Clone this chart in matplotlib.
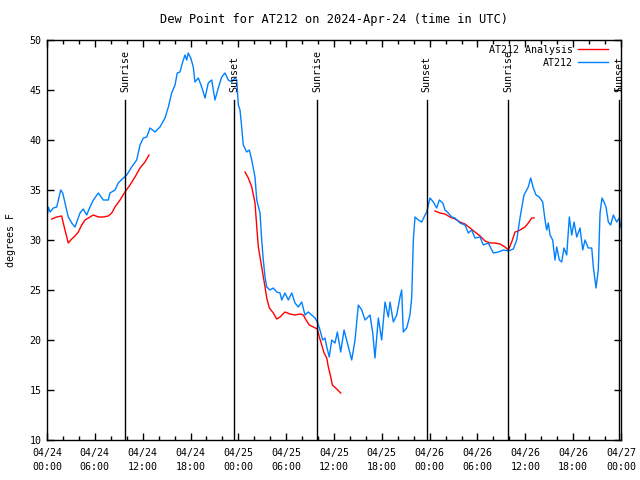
import numpy as np
import matplotlib
matplotlib.use("Agg")
import matplotlib.pyplot as plt
from matplotlib.ticker import MultipleLocator

# Hours since 2024-04-24 00:00 UTC
blue_hours = [0.0, 0.16, 0.38, 0.79, 1.22, 1.42, 1.72, 1.97, 2.26, 2.67, 3.10, 3.51, 3.73, 4.14, 4.55,
              4.98, 5.39, 5.81, 6.44, 7.06, 7.69, 7.90, 8.53, 8.94, 9.57, 10.0, 10.62, 11.25, 11.67,
              12.08, 12.51, 12.92, 13.55, 14.17, 14.80, 15.22, 15.64, 16.06, 16.34, 16.68, 17.02,
              17.31, 17.52, 17.72, 18.03, 18.35, 18.56, 18.98, 19.41, 19.82, 20.23, 20.66, 21.07,
              21.49, 21.91, 22.33, 22.74, 23.17, 23.58, 23.80, 24.00, 24.21, 24.42, 24.62, 25.05,
              25.38, 25.68, 26.09, 26.31, 26.72, 26.93, 27.13, 27.35, 27.56, 27.97, 28.39, 28.81,
              29.23, 29.44, 29.85, 30.27, 30.70, 31.11, 31.52, 31.95, 32.36, 32.78, 33.20, 33.62,
              33.91, 34.24, 34.58, 34.87, 35.09, 35.41, 35.71, 36.13, 36.42, 36.84, 37.26, 37.80,
              38.22, 38.64, 39.05, 39.48, 39.89, 40.52, 40.86, 41.14, 41.56, 41.98, 42.40, 42.81,
              43.03, 43.44, 43.87, 44.28, 44.49, 44.69, 45.12, 45.53, 45.75, 45.95, 46.16, 46.58,
              47.00, 47.42, 47.63, 48.04, 48.46, 48.88, 49.21, 49.64, 49.92, 50.34, 50.76, 51.18,
              51.81, 52.43, 52.85, 53.27, 53.69, 54.32, 54.73, 55.36, 55.98, 56.61, 57.24, 57.87,
              58.49, 58.92, 59.33, 59.83, 60.37, 60.67, 61.00, 61.34, 61.75, 62.18, 62.47, 62.68,
              62.88, 63.10, 63.43, 63.72, 63.94, 64.26, 64.56, 64.85, 65.19, 65.52, 65.82, 66.11,
              66.45, 66.86, 67.20, 67.49, 67.90, 68.33, 68.53, 68.87, 69.15, 69.37, 69.62, 69.87,
              70.12, 70.41, 70.71, 71.04, 71.46, 71.79, 71.97]
blue_vals = [32.2, 33.3, 32.8, 33.2, 33.3, 34.0, 35.0, 34.7, 33.7, 32.3, 31.7, 31.3, 31.8, 32.7, 33.1,
             32.5, 33.3, 34.0, 34.7, 34.0, 34.0, 34.7, 35.0, 35.7, 36.2, 36.5, 37.3, 38.0, 39.5,
             40.2, 40.3, 41.2, 40.8, 41.3, 42.2, 43.3, 44.7, 45.5, 46.7, 46.8, 47.8,
             48.5, 48.0, 48.7, 48.2, 47.3, 45.8, 46.2, 45.3, 44.2, 45.7, 46.0, 44.0,
             45.2, 46.3, 46.7, 46.0, 45.8, 46.2, 46.0, 43.5, 43.0, 41.3, 39.5, 38.8,
             39.0, 38.0, 36.3, 34.0, 32.7, 30.0, 28.0, 26.3, 25.3, 25.0, 25.2, 24.8,
             24.7, 24.0, 24.7, 24.0, 24.7, 23.7, 23.3, 23.8, 22.5, 22.8, 22.5, 22.2,
             21.8, 21.0, 20.0, 20.2, 19.3, 18.3, 20.0, 19.7, 20.8, 18.8, 21.0, 19.3,
             18.0, 20.0, 23.5, 23.0, 22.0, 22.5, 20.7, 18.2, 22.2, 20.0, 23.8, 22.3,
             23.8, 21.8, 22.5, 24.3, 25.0, 20.8, 21.2, 22.5, 24.3, 30.0, 32.3, 32.0,
             31.8, 32.5, 32.8, 34.2, 33.8, 33.2, 34.0, 33.7, 33.0, 32.7, 32.3, 32.2,
             31.7, 31.5, 30.7, 31.0, 30.2, 30.3, 29.5, 29.7, 28.7, 28.8, 29.0, 28.9,
             29.1, 30.0, 32.2, 34.5, 35.3, 36.2, 35.2, 34.5, 34.3, 33.8, 32.0, 31.0,
             31.7, 30.5, 30.0, 28.0, 29.3, 28.0, 27.8, 29.2, 28.5, 32.3, 30.5, 31.8,
             30.3, 31.2, 29.0, 30.0, 29.2, 29.2, 27.3, 25.2, 27.0, 32.7, 34.2, 33.8,
             33.3, 31.8, 31.5, 32.5, 31.8, 32.2, 31.3]

nan = float("nan")
red_hours = [0.59, 1.22, 1.84, 2.04, 2.35, 2.67, 3.10, 3.51, 3.93, 4.35, 4.77, 5.18, 5.81, 6.44,
             7.06, 7.69, 8.12, 8.53, 9.16, 9.78, 10.41, 11.04, 11.67, 12.29, 12.79, 13.0,
             24.84, 25.25, 25.68, 26.09, 26.31, 26.51, 26.93, 27.35, 27.56, 27.89, 28.39, 28.81,
             29.23, 29.85, 30.48, 31.11, 31.74, 32.15, 32.49, 32.90, 33.41, 33.91, 34.16, 34.46,
             34.75, 35.09, 35.29, 35.59, 35.79, 36.34, 36.84, 37.0,
             48.67, 49.30, 49.92, 50.55, 51.18, 51.81, 52.43, 53.06, 53.69, 54.32, 54.95, 55.57,
             56.20, 56.82, 57.45, 57.87, 58.29, 58.71, 59.12, 59.33, 59.96, 60.37, 60.80, 61.09]
red_vals = [32.1, 32.3, 32.4, 31.7, 30.7, 29.7, 30.1, 30.4, 30.8, 31.5, 32.0, 32.2, 32.5, 32.3,
            32.3, 32.4, 32.7, 33.3, 34.0, 34.8, 35.5, 36.3, 37.2, 37.8, 38.5, nan,
            36.8, 36.2, 35.3, 33.7, 31.3, 29.3, 27.3, 25.3, 24.2, 23.2, 22.7, 22.1,
            22.3, 22.8, 22.6, 22.5, 22.6, 22.5, 22.0, 21.5, 21.3, 21.1, 20.3, 19.5,
            18.7, 18.2, 17.3, 16.3, 15.5, 15.1, 14.7, nan,
            32.9, 32.7, 32.6, 32.3, 32.1, 31.8, 31.6, 31.2, 30.8, 30.4, 29.9, 29.7,
            29.7, 29.6, 29.3, 29.0, 29.8, 30.8, 30.9, 31.0, 31.3, 31.7, 32.2, 32.2]

sun_hours = [9.82, 23.46, 33.93, 47.63, 57.87, 71.75]
sun_labels = ["Sunrise", "Sunset", "Sunrise", "Sunset", "Sunrise", "Sunset"]

tick_hours = list(range(0, 73, 6))
tick_labels = ["04/24\n00:00", "04/24\n06:00", "04/24\n12:00", "04/24\n18:00",
               "04/25\n00:00", "04/25\n06:00", "04/25\n12:00", "04/25\n18:00",
               "04/26\n00:00", "04/26\n06:00", "04/26\n12:00", "04/26\n18:00",
               "04/27\n00:00"]

plt.rcParams["font.family"] = ["DejaVu Sans Mono"]
plt.rcParams["font.size"] = 7.2

fig = plt.figure(figsize=(6.4, 4.8), dpi=100)
ax = fig.add_axes([47/640, 40/480, 574/640, 400/480])

ax.plot(red_hours, red_vals, color="#ff0000", lw=1, label="AT212 Analysis")
ax.plot(blue_hours, blue_vals, color="#0080ff", lw=1, label="AT212")

for h, lab in zip(sun_hours, sun_labels):
    ax.plot([h, h], [10, 44], color="black", lw=1)
    ax.text(h, 44.8, lab, rotation=90, ha="center", va="bottom")

ax.set_xlim(0, 72)
ax.set_ylim(10, 50)
ax.set_xticks(tick_hours)
ax.set_xticklabels(tick_labels)
for lbl in ax.get_xticklabels():
    lbl.set_linespacing(1.45)
ax.xaxis.set_minor_locator(MultipleLocator(2))
ax.yaxis.set_major_locator(MultipleLocator(5))
ax.tick_params(which="both", direction="in", top=True, right=True, width=1, color="black")
ax.tick_params(which="major", length=5)
ax.tick_params(axis="x", which="major", pad=6)
ax.tick_params(axis="y", which="major", pad=4)
ax.tick_params(which="minor", length=3)
for s in ax.spines.values():
    s.set_linewidth(1)

ax.set_ylabel("degrees F", labelpad=10)
ax.set_title("Dew Point for AT212 on 2024-Apr-24 (time in UTC)", pad=12.5)

leg = ax.legend(loc="upper right", bbox_to_anchor=(1 - 7/574, 1 + 1/400), frameon=False,
                markerfirst=False, handlelength=3.0, borderaxespad=0.2, labelspacing=0.3,
                handletextpad=0.5, fontsize=7.2)

fig.savefig("out.png", dpi=100)
